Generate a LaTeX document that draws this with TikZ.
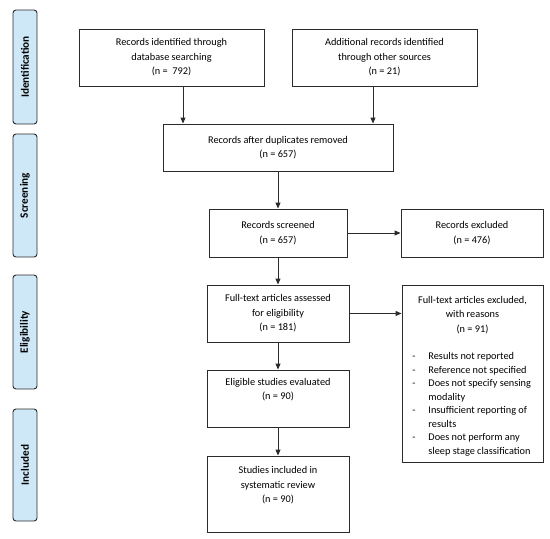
\documentclass[tikz,border=0pt]{standalone}
\usepackage{fontspec}
\setmainfont{Carlito}
\usepackage{xcolor}
\usepackage{tikz}
\usetikzlibrary{arrows.meta, positioning}
\definecolor{fasebiru}{HTML}{CFE8F8}
\definecolor{garis}{HTML}{2B2B2B}
\tikzset{
  kotak/.style={rectangle, draw=garis, line width=0.9pt, fill=white, align=center,
    inner sep=0pt, font=\fontsize{10.3}{14.5}\selectfont},
  fase/.style={rectangle, rounded corners=3pt, draw=garis, line width=0.9pt, fill=fasebiru,
    rotate=90, minimum height=24pt, inner sep=0pt, font=\fontsize{11.2}{13}\selectfont\bfseries},
  alur/.style={-{Triangle[length=6pt, width=5pt]}, line width=0.9pt, garis}
}

\begin{document}
\begin{tikzpicture}[x=1pt, y=-1pt]
  \useasboundingbox (0,0) rectangle (550,539);
  % tahap di sisi kiri
  \node[fase, minimum width=114pt] (fid) at (25,67) {Identification};
  \node[fase, minimum width=123pt] (fsc) at (25,195.5) {Screening};
  \node[fase, minimum width=114pt] (fel) at (25,332) {Eligibility};
  \node[fase, minimum width=112pt] (fin) at (25,465) {Included};
  % kotak alur
  \node[kotak, minimum width=185pt, minimum height=57pt] (db) at (171.5,57.5)
    {Records identified through\\database searching\\(n = \ 792)};
  \node[kotak, minimum width=185pt, minimum height=57pt] (lain) at (384.5,57.5)
    {Additional records identified\\through other sources\\(n = 21)};
  \node[kotak, minimum width=230pt, minimum height=47pt] (dup) at (278,147.5)
    {Records after duplicates removed\\(n = 657)};
  \node[kotak, minimum width=138pt, minimum height=48pt] (scr) at (278,233)
    {Records screened\\(n = 657)};
  \node[kotak, minimum width=142pt, minimum height=48pt] (exc) at (472,233)
    {Records excluded\\(n = 476)};
  \node[kotak, minimum width=142pt, minimum height=57pt] (full) at (278,313.5)
    {Full-text articles assessed\\for eligibility\\(n = 181)};
  \node[kotak, minimum width=141pt, minimum height=177pt] (alasan) at (472.5,373.5) {};
  \node[kotak, draw=none, fill=none, anchor=north] (alasanj) at (472.5,295.5)
    {Full-text articles excluded,\\with reasons\\(n = 91)};
  \node[kotak, draw=none, fill=none, anchor=north west, align=left] (alasanl) at (412,350)
    {\fontsize{10.3}{13.5}\selectfont
     \begin{tabular}{@{}p{16pt}@{}l@{}}
     - & Results not reported\\
     - & Reference not specified\\
     - & Does not specify sensing\\
       & modality\\
     - & Insufficient reporting of\\
       & results\\
     - & Does not perform any\\
       & sleep stage classification
     \end{tabular}};
  \node[kotak, minimum width=142pt, minimum height=57pt] (elig) at (278,398.5)
    {Eligible studies evaluated\\(n = 90)\\\strut};
  \node[kotak, minimum width=142pt, minimum height=76pt] (incl) at (278,494)
    {Studies included in\\systematic review\\(n = 90)\\\strut};
  % panah
  \draw[alur] ([xshift=11.5pt]db.south) -- ([xshift=11.5pt]db.south |- dup.north);
  \draw[alur] ([xshift=-11.5pt]lain.south) -- ([xshift=-11.5pt]lain.south |- dup.north);
  \draw[alur] (dup) -- (scr);
  \draw[alur] (scr) -- (exc);
  \draw[alur] (scr) -- (full);
  \draw[alur] (full.east) -- (full.east -| alasan.west);
  \draw[alur] (full) -- (elig);
  \draw[alur] (elig) -- (incl);
\end{tikzpicture}
\end{document}
